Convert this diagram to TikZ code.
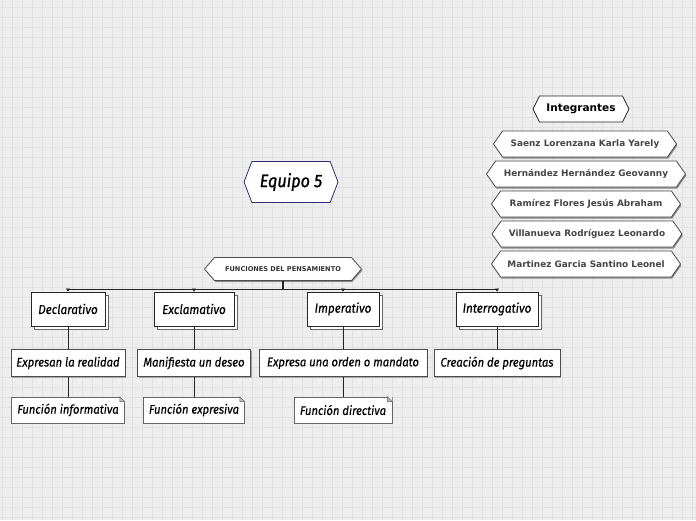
\documentclass[tikz,border=0pt]{standalone}
\usepackage{fontspec}
\setmainfont{DejaVu Sans}
\newfontfamily\hand{Fira Sans}[FakeStretch=0.9, FakeBold=0.5]
\newfontfamily\handb{Fira Sans}[FakeStretch=0.9, FakeBold=1.2]
\usetikzlibrary{shapes.symbols,arrows.meta,shadows}
\definecolor{bgc}{HTML}{EEEEEE}
\definecolor{gridc}{HTML}{E2E2E2}
\definecolor{navy}{HTML}{2E3170}
\definecolor{txtg}{HTML}{454545}
\tikzset{
  hexa/.style={signal, signal to=west and east, draw=#1, fill=white, inner sep=0pt, line width=0.8pt},
  hexa/.default=black!80,
  namebox/.style={hexa=black!70, minimum width=#1, minimum height=26pt, signal pointer angle=110,
     font=\fontsize{8.9}{10}\selectfont\bfseries, text=txtg,
     drop shadow={shadow xshift=0.8pt, shadow yshift=-1.6pt, fill=black!45, opacity=1}},
  lvlone/.style={draw=black!85, fill=white, line width=0.8pt, minimum height=34pt, inner sep=0pt,
     font=\hand\itshape\fontsize{13}{15}\selectfont,
     copy shadow={shadow xshift=3pt, shadow yshift=-3pt, draw=black!60, fill=white}},
  lvltwo/.style={draw=black!70, fill=white, line width=0.6pt, minimum height=27pt, inner sep=0pt,
     font=\hand\itshape\fontsize{12.5}{14}\selectfont,
     drop shadow={shadow xshift=1pt, shadow yshift=-1pt, fill=black!35, opacity=1}},
  lvlthree/.style={draw=black!60, fill=white, line width=0.6pt, minimum height=26pt, inner sep=0pt,
     font=\hand\itshape\fontsize{12.5}{14}\selectfont},
  conn/.style={draw=black!85, line width=0.8pt},
  tip/.style={-{Triangle[length=3pt,width=4pt]}}
}
\begin{document}
\begin{tikzpicture}[x=1pt,y=-1pt]
\useasboundingbox (0,0) rectangle (696,520);
\fill[bgc] (0,0) rectangle (696,520);
\foreach \gx in {2,12,...,692} \draw[gridc, line width=0.6pt] (\gx,0) -- (\gx,520);
\foreach \gy in {7,17,...,517} \draw[gridc, line width=0.6pt] (0,\gy) -- (696,\gy);

% title
\node[hexa=navy, minimum width=94pt, minimum height=41pt, signal pointer angle=138,
      font=\handb\itshape\fontsize{18}{20}\selectfont] (equipo) at (291,182) {Equipo 5};

% members
\node[hexa=black!85, minimum width=96pt, minimum height=26pt, signal pointer angle=127,
      font=\fontsize{10.5}{12}\selectfont\bfseries] (integ) at (581,109) {Integrantes};
\node[namebox=183pt] (m1) at (585,144) {Saenz Lorenzana Karla Yarely};
\node[namebox=199pt] (m2) at (586,174) {Hernández Hernández Geovanny};
\node[namebox=189pt] (m3) at (586,204) {Ramírez Flores Jesús Abraham};
\node[namebox=190pt] (m4) at (587,234) {Villanueva Rodríguez Leonardo};
\node[namebox=189pt] (m5) at (586,264) {Martinez Garcia Santino Leonel};

% root
\node[hexa=black!70, minimum width=157pt, minimum height=23pt, signal pointer angle=98,
      font=\fontsize{6.6}{8}\selectfont\bfseries, text=black!80,
      drop shadow={shadow xshift=0.8pt, shadow yshift=-1.5pt, fill=black!45, opacity=1}] (func) at (283,269) {FUNCIONES DEL PENSAMIENTO};

% level one
\node[lvlone, minimum width=74pt] (decl) at (68,309) {Declarativo};
\node[lvlone, minimum width=80pt] (excl) at (194,309) {Exclamativo};
\node[lvlone, minimum width=72pt] (impe) at (343,309) {Imperativo};
\node[lvlone, minimum width=82pt] (inte) at (497,309) {Interrogativo};

% level two
\node[lvltwo, minimum width=114pt] (d2) at (68,363) {Expresan la realidad};
\node[lvltwo, minimum width=113pt] (e2) at (194,363) {Manifiesta un deseo};
\node[lvltwo, minimum width=168pt] (i2) at (343,363) {Expresa una orden o mandato};
\node[lvltwo, minimum width=126pt] (q2) at (497,363) {Creación de preguntas};

% level three
\node[lvlthree, minimum width=113pt] (d3) at (68,410) {Función informativa};
\node[lvlthree, minimum width=101pt] (e3) at (194,410) {Función expresiva};
\node[lvlthree, minimum width=98pt] (i3) at (343,410) {Función directiva};
\foreach \n in {d3,e3,i3}{
  \fill[bgc] (\n.north east) -- ++(-5,0) -- ++(5,5) -- cycle;
  \filldraw[fill=black!25, draw=black!60, line width=0.5pt] (\n.north east) ++(-5,0) -- ++(0,5) -- ++(5,0) -- cycle;
}

% connectors
\coordinate (b1) at (68,289);
\coordinate (b2) at (194,289);
\coordinate (b3) at (343,289);
\coordinate (b4) at (497,289);
\draw[conn, line width=1.6pt] (func.south) -- (func.south |- b1);
\draw[conn] (b1) -- (b4);
\draw[conn, tip] (b1) -- (decl.north);
\draw[conn, tip] (b2) -- (excl.north);
\draw[conn, tip] (b3) -- (impe.north);
\draw[conn, tip] (b4) -- (inte.north);
\draw[conn] (decl.south) -- (d2.north);
\draw[conn] (excl.south) -- (e2.north);
\draw[conn] (impe.south) -- (i2.north);
\draw[conn] (inte.south) -- (q2.north);
\draw[conn] (d2.south) -- (d3.north);
\draw[conn] (e2.south) -- (e3.north);
\draw[conn] (i2.south) -- (i3.north);
\end{tikzpicture}
\end{document}
